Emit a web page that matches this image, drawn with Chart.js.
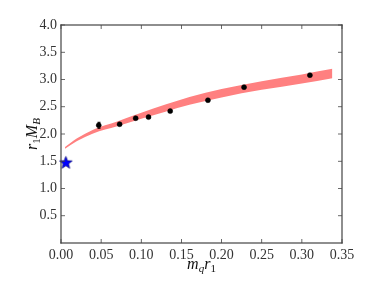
<!DOCTYPE html>
<html>
<head>
<meta charset="UTF-8">
<title>r1 MB vs mq r1</title>
<script src="https://cdn.jsdelivr.net/npm/chart.js"></script>
<style>
  html, body { margin: 0; padding: 0; background: #fff; }
  #wrap { width: 374px; height: 299px; }
</style>
</head>
<body>
<div id="wrap"><canvas id="chart"></canvas></div>
<script>
// lattice points
const mqr1 = [0.047, 0.073, 0.093, 0.109, 0.136, 0.183, 0.228, 0.310];
const r1MB = [2.16, 2.18, 2.29, 2.31, 2.42, 2.62, 2.86, 3.08];
const r1MBerr = [0.055, 0.015, 0.015, 0.015, 0.015, 0.015, 0.015, 0.015];

// physical point (star)
const physX = [0.006];
const physY = [1.48];

// fit band
const bandX = [0.005, 0.02, 0.04, 0.07, 0.10, 0.13, 0.16, 0.20, 0.25, 0.30, 0.338];
const bandLo = [1.73, 1.87, 2.01, 2.14, 2.28, 2.41, 2.535, 2.672, 2.81, 2.927, 3.025];
const bandHi = [1.76, 1.92, 2.08, 2.23, 2.39, 2.54, 2.68, 2.825, 2.97, 3.093, 3.195];

const xTicks = [0, 0.05, 0.10, 0.15, 0.20, 0.25, 0.30, 0.35];
const yTicks = [0.5, 1.0, 1.5, 2.0, 2.5, 3.0, 3.5, 4.0];

const serif = '"Liberation Serif", "DejaVu Serif", serif';

// filled five-point star marker
function starMarker(r) {
    const c = document.createElement('canvas');
    const s = Math.ceil(r * 2 + 4);
    c.width = s; c.height = s;
    const g = c.getContext('2d');
    g.beginPath();
    for (let i = 0; i < 10; i++) {
        const rr = i % 2 === 0 ? r : r * 0.42;
        const a = -Math.PI / 2 + i * Math.PI / 5;
        const px = s / 2 + rr * Math.cos(a), py = s / 2 + 0.6 + rr * Math.sin(a);
        if (i === 0) g.moveTo(px, py); else g.lineTo(px, py);
    }
    g.closePath();
    g.fillStyle = '#0000ff';
    g.fill();
    g.strokeStyle = '#000080';
    g.lineWidth = 0.8;
    g.stroke();
    return c;
}

const toPts = (xs, ys) => xs.map((x, i) => ({ x: x, y: ys[i] }));

// error bars, frame, inward ticks and axis titles
const decor = {
    id: 'decor',
    afterDraw(chart) {
        const ctx = chart.ctx;
        const a = chart.chartArea;
        const sx = chart.scales.x, sy = chart.scales.y;
        ctx.save();
        ctx.globalAlpha = 1;
        ctx.setLineDash([]);

        // error bars
        ctx.fillStyle = '#000';
        mqr1.forEach((v, i) => {
            const px = Math.round(sx.getPixelForValue(v));
            const y1 = sy.getPixelForValue(r1MB[i] + r1MBerr[i]);
            const y2 = sy.getPixelForValue(r1MB[i] - r1MBerr[i]);
            ctx.fillRect(px - 0.5, y1, 1, y2 - y1);
            ctx.fillRect(px - 1.5, y1 - 0.5, 3, 1);
            ctx.fillRect(px - 1.5, y2 - 0.5, 3, 1);
        });

        // frame
        const L = Math.round(a.left), R = Math.round(a.right);
        const T = Math.round(a.top), B = Math.round(a.bottom);
        ctx.fillStyle = '#444';
        ctx.fillRect(L - 0.6, T - 0.6, R - L + 1.2, 1.2);
        ctx.fillRect(L - 0.6, B - 0.6, R - L + 1.2, 1.2);
        ctx.fillRect(L - 0.6, T - 0.6, 1.2, B - T + 1.2);
        ctx.fillRect(R - 0.6, T - 0.6, 1.2, B - T + 1.2);

        // ticks pointing inward on all four sides
        xTicks.forEach(v => {
            const px = sx.getPixelForValue(v);
            ctx.fillRect(px - 0.4, B - 4, 0.8, 4);
            ctx.fillRect(px - 0.4, T, 0.8, 4);
        });
        yTicks.forEach(v => {
            const py = sy.getPixelForValue(v);
            ctx.fillRect(L, py - 0.4, 4, 0.8);
            ctx.fillRect(R - 4, py - 0.4, 4, 0.8);
        });

        // axis titles with subscripts
        ctx.fillStyle = '#111';
        ctx.textBaseline = 'alphabetic';
        ctx.textAlign = 'left';
        const big = 'italic 16px ' + serif, small = 'italic 11px ' + serif, smallR = '11px ' + serif;
        const widthOf = (list) => {
            let w = 0;
            list.forEach(p => { ctx.font = p[1]; w += ctx.measureText(p[0]).width; });
            return w;
        };
        const drawParts = (list, x0, y0) => {
            let cx = x0;
            list.forEach(p => {
                ctx.font = p[1];
                ctx.fillText(p[0], cx, y0 + p[2]);
                cx += ctx.measureText(p[0]).width;
            });
        };
        const xt = [['m', big, 0], ['q', small, 3], ['r', big, 0], ['1', smallR, 3]];
        drawParts(xt, (a.left + a.right) / 2 - widthOf(xt) / 2, 269);

        const yt = [['r', big, 0], ['1', smallR, 3], ['M', big, 0], ['B', small, 3]];
        const wy = widthOf(yt);
        ctx.translate(37, (a.top + a.bottom) / 2);
        ctx.rotate(-Math.PI / 2);
        drawParts(yt, -wy / 2, 0);
        ctx.restore();
    }
};

new Chart(document.getElementById('chart'), {
    type: 'scatter',
    data: {
        datasets: [
            {
                label: 'band low',
                data: toPts(bandX, bandLo),
                order: 3,
                showLine: true,
                borderWidth: 0,
                borderColor: 'rgba(0,0,0,0)',
                pointRadius: 0,
                cubicInterpolationMode: 'monotone',
                fill: false
            },
            {
                label: 'band high',
                data: toPts(bandX, bandHi),
                order: 2,
                showLine: true,
                borderWidth: 0,
                borderColor: 'rgba(0,0,0,0)',
                pointRadius: 0,
                cubicInterpolationMode: 'monotone',
                backgroundColor: '#ff8080',
                fill: '-1'
            },
            {
                label: 'lattice',
                data: toPts(mqr1, r1MB),
                order: 0,
                pointStyle: 'circle',
                pointRadius: 2.5,
                pointBackgroundColor: '#000',
                pointBorderColor: '#000',
                pointBorderWidth: 0.5,
                clip: false
            },
            {
                label: 'physical',
                data: toPts(physX, physY),
                order: 0,
                pointStyle: starMarker(6.5),
                clip: false
            }
        ]
    },
    options: {
        responsive: true,
        maintainAspectRatio: false,
        animation: false,
        events: [],
        layout: { padding: { left: 0, top: 25, right: 32, bottom: 0 } },
        plugins: { legend: { display: false }, tooltip: { enabled: false } },
        scales: {
            x: {
                type: 'linear',
                min: 0, max: 0.35,
                afterBuildTicks: s => { s.ticks = xTicks.map(v => ({ value: v })); },
                afterFit: s => { s.height = 56; },
                grid: { display: false, drawTicks: false },
                border: { display: false },
                ticks: {
                    padding: 4,
                    color: '#333',
                    font: { family: serif, size: 14 },
                    maxRotation: 0,
                    callback: v => v.toFixed(2)
                }
            },
            y: {
                type: 'linear',
                min: 0, max: 4,
                afterBuildTicks: s => { s.ticks = yTicks.map(v => ({ value: v })); },
                afterFit: s => { s.width = 61; },
                grid: { display: false, drawTicks: false },
                border: { display: false },
                ticks: {
                    padding: 4,
                    color: '#333',
                    font: { family: serif, size: 14 },
                    callback: v => v.toFixed(1)
                }
            }
        }
    },
    plugins: [decor]
});
</script>
</body>
</html>
